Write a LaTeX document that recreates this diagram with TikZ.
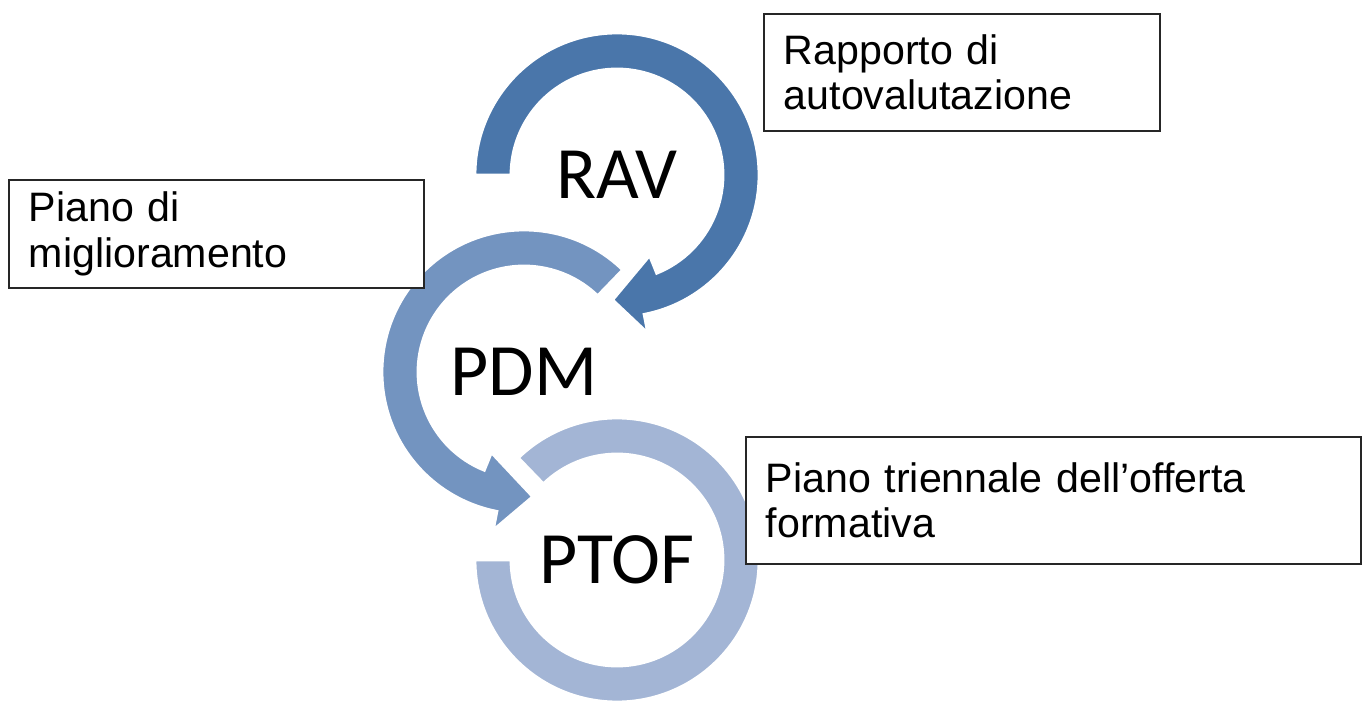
\documentclass[tikz,border=0pt]{standalone}
\usepackage{fontspec}
\newfontfamily\ringfont{Carlito}
\newfontfamily\boxfont{Liberation Sans}
\usetikzlibrary{calc}
\definecolor{ravblue}{RGB}{74,118,170}
\definecolor{pdmblue}{RGB}{115,148,192}
\definecolor{ptofblue}{RGB}{163,181,213}
\def\ringarrow[#1](#2)(#3:#4:#5:#6){\draw[#1] ($(#2)+(#3:142)$) arc[start angle=#3, end angle=#4, radius=142] -- ($(#2)+(#4:161)$) -- ($(#2)+(#6:125)$) -- ($(#2)+(#5:87)$) -- ($(#2)+(#5:106)$) arc[start angle=#5, end angle=#3, radius=106] -- cycle;}
\def\ringarc[#1](#2)(#3:#4){\draw[#1] ($(#2)+(#3:142)$) arc[start angle=#3, end angle=#4, radius=142] -- ($(#2)+(#4:106)$) arc[start angle=#4, end angle=#3, radius=106] -- cycle;}

\begin{document}
\begin{tikzpicture}[x=0.01cm, y=0.01cm,
		ring/.style={draw=white, line width=0.8pt},
		ringlabel/.style={font=\ringfont\fontsize{21}{25}\selectfont},
		notebox/.style={draw=black!85, line width=0.5pt, fill=white, anchor=north west,
			inner xsep=0.2cm, inner ysep=0pt, align=left,
			font=\boxfont\fontsize{11.7}{13}\selectfont}]
		%%%%% START %%%%%
		
		\useasboundingbox (0, 0) rectangle (1367, 700);
		
		\coordinate (rav) at (617, 525);
		\coordinate (pdm) at (524, 328);
		\coordinate (ptof) at (617, 140);
		
		\ringarc[ring, fill=ptofblue](ptof)(134:-180);
		\ringarrow[ring, fill=pdmblue](pdm)(46:259:248:274);
		\ringarrow[ring, fill=ravblue](rav)(180:-79:-68:-92);
		
		\node[ringlabel] (ravtext) at (rav) {RAV};
		\node[ringlabel] (pdmtext) at (pdm) {PDM};
		\node[ringlabel] (ptoftext) at (ptof) {PTOF};
		
		\node[notebox, text width=3.56cm, minimum height=1.17cm] (ravnote) at (763, 687) {Rapporto di\\autovalutazione};
		\node[notebox, text width=3.75cm, minimum height=1.08cm] (pdmnote) at (8, 521) {Piano di\\miglioramento};
		\node[notebox, text width=5.75cm, minimum height=1.27cm] (ptofnote) at (745, 264) {Piano triennale dell’offerta\\formativa};
		
		%%%%% END %%%%%
	\end{tikzpicture}
\end{document}
